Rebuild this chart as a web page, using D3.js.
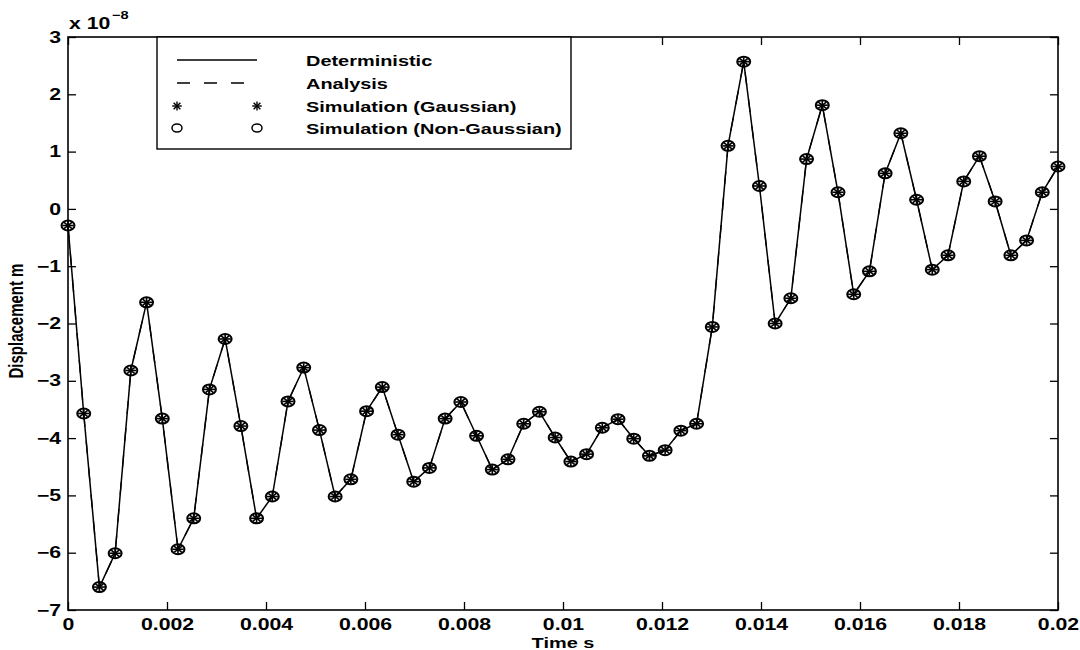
<!DOCTYPE html>
<html>
<head>
<meta charset="utf-8">
<script src="https://cdn.jsdelivr.net/npm/d3@7"></script>
<style>
  html, body { margin: 0; padding: 0; background: #fff; }
  svg { display: block; font-family: 'Liberation Sans', Arial, Helvetica, sans-serif; font-weight: bold; }
</style>
</head>
<body>
<svg id="chart" width="1080" height="650"></svg>
<script>
// displacement samples, in units of 1e-8 m
const displacement = [
  -0.29, -3.57, -6.60, -6.01, -2.82, -1.63, -3.66, -5.94, -5.40, -3.15,
  -2.27, -3.79, -5.40, -5.02, -3.36, -2.77, -3.86, -5.02, -4.72, -3.53,
  -3.11, -3.94, -4.76, -4.52, -3.66, -3.37, -3.96, -4.55, -4.37, -3.75,
  -3.54, -3.99, -4.41, -4.28, -3.82, -3.67, -4.01, -4.31, -4.21, -3.87,
  -3.75, -2.06, 1.10, 2.57, 0.40, -2.00, -1.56, 0.87, 1.81, 0.29,
  -1.49, -1.09, 0.62, 1.32, 0.16, -1.06, -0.81, 0.48, 0.92, 0.13,
  -0.81, -0.55, 0.29, 0.74
];
const timeEnd = 0.02;
const sampleStep = timeEnd / (displacement.length - 1);
const xTicks = [0, 0.002, 0.004, 0.006, 0.008, 0.01, 0.012, 0.014, 0.016, 0.018, 0.02];
const xTickLabels = ['0', '0.002', '0.004', '0.006', '0.008', '0.01', '0.012', '0.014', '0.016', '0.018', '0.02'];
const yTicks = [3, 2, 1, 0, -1, -2, -3, -4, -5, -6, -7];
const legendLabels = ['Deterministic', 'Analysis', 'Simulation (Gaussian)', 'Simulation (Non-Gaussian)'];

const SX = 1.33; // the scanned figure is stretched horizontally
const plotLeft = 68, plotRight = 1058, plotTop = 37, plotBottom = 610;

const svg = d3.select('#chart');
const points = displacement.map((v, i) => ({ t: i * sampleStep, v: v }));

const scaleX = d3.scaleLinear().domain([0, timeEnd]).range([plotLeft, plotRight]);
const scaleY = d3.scaleLinear().domain([-7, 3]).range([plotBottom, plotTop]);

// axes: ticks point inwards, matlab style
const bottomAxis = d3.axisBottom(scaleX).tickValues(xTicks)
  .tickFormat((d, i) => xTickLabels[i]).tickSizeInner(-8).tickSizeOuter(0).tickPadding(9);
const leftAxis = d3.axisLeft(scaleY).tickValues(yTicks)
  .tickFormat(d => d < 0 ? '\u2212' + Math.abs(d) : d).tickSizeInner(-8).tickSizeOuter(0).tickPadding(7);
const topAxis = d3.axisTop(scaleX).tickValues(xTicks).tickFormat('').tickSizeInner(-8).tickSizeOuter(0);
const rightAxis = d3.axisRight(scaleY).tickValues(yTicks).tickFormat('').tickSizeInner(-8).tickSizeOuter(0);

const styleAxis = (g) => {
  g.select('.domain').remove();
  g.selectAll('line').attr('stroke', '#000').attr('stroke-width', 1.3);
  g.selectAll('text').attr('fill', '#000').attr('font-size', 16).attr('font-weight', 'bold');
};

svg.append('rect')
  .attr('x', plotLeft).attr('y', plotTop)
  .attr('width', plotRight - plotLeft).attr('height', plotBottom - plotTop)
  .attr('fill', 'none').attr('stroke', '#000').attr('stroke-width', 1.6);

let gBottom = svg.append('g').attr('transform', `translate(0,${plotBottom})`).call(bottomAxis).call(styleAxis);
gBottom.selectAll('text').attr('transform', `scale(${SX},1)`);

let gLeft = svg.append('g').attr('transform', `translate(${plotLeft},0)`).call(leftAxis).call(styleAxis);
gLeft.selectAll('text').attr('x', -7 / SX).attr('transform', `scale(${SX},1)`);

svg.append('g').attr('transform', `translate(0,${plotTop})`).call(topAxis).call(styleAxis);
svg.append('g').attr('transform', `translate(${plotRight},0)`).call(rightAxis).call(styleAxis);

// stretched text helper
const stretchText = (parent, x, y, txt, size, anchor, rotate) => {
  let g = parent.append('g').attr('transform', rotate
    ? `translate(${x},${y}) rotate(-90) scale(1,${SX})`
    : `translate(${x},${y}) scale(${SX},1)`);
  return g.append('text')
    .attr('text-anchor', anchor || 'start')
    .attr('font-size', size)
    .attr('font-weight', 'bold')
    .attr('fill', '#000')
    .text(txt);
};

// exponent label
stretchText(svg, 69, 29, 'x 10', 16);
stretchText(svg, 112, 19, '\u22128', 11);

// axis titles
stretchText(svg, 563, 648, 'Time s', 15, 'middle');
stretchText(svg, 23, 321, 'Displacement m', 15, 'middle', true);

// data
const valueLine = d3.line()
  .x(d => scaleX(d.t))
  .y(d => scaleY(d.v));

const plot = svg.append('g');
plot.append('path')
  .attr('d', valueLine(points))
  .attr('fill', 'none').attr('stroke', '#000').attr('stroke-width', 1.5);
plot.append('path')
  .attr('d', valueLine(points))
  .attr('fill', 'none').attr('stroke', '#000').attr('stroke-width', 1.3)
  .attr('stroke-dasharray', '13,14');

const drawStar = (g, rx, ry, w) => {
  for (let a = 0; a < 180; a += 45) {
    let r = a * Math.PI / 180;
    g.append('line')
      .attr('x1', -Math.cos(r) * rx).attr('y1', -Math.sin(r) * ry)
      .attr('x2', Math.cos(r) * rx).attr('y2', Math.sin(r) * ry)
      .attr('stroke', '#000').attr('stroke-width', w);
  }
};
const drawCircle = (g, rx, ry, w) => {
  g.append('ellipse')
    .attr('rx', rx).attr('ry', ry)
    .attr('fill', 'none').attr('stroke', '#000').attr('stroke-width', w);
};

let marks = plot.selectAll('.mark')
  .data(points)
  .enter()
  .append('g')
  .attr('class', 'mark')
  .attr('transform', d => `translate(${scaleX(d.t)},${scaleY(d.v)})`);
marks.each(function () {
  let g = d3.select(this);
  drawStar(g, 5.6, 4.4, 1.6);
  drawCircle(g, 6.5, 5, 2);
});

// legend
const legend = svg.append('g');
legend.append('rect')
  .attr('x', 157).attr('y', plotTop)
  .attr('width', 414).attr('height', 112)
  .attr('fill', '#fff').attr('stroke', '#000').attr('stroke-width', 1.4);
const rowY = [60, 83, 106, 128];
legend.append('line')
  .attr('x1', 177).attr('x2', 257).attr('y1', rowY[0]).attr('y2', rowY[0])
  .attr('stroke', '#000').attr('stroke-width', 1.4);
legend.append('line')
  .attr('x1', 177).attr('x2', 257).attr('y1', rowY[1]).attr('y2', rowY[1])
  .attr('stroke', '#000').attr('stroke-width', 1.4).attr('stroke-dasharray', '13,14');
[177, 257].forEach(x => {
  drawStar(legend.append('g').attr('transform', `translate(${x},${rowY[2]})`), 4.8, 4.6, 1.4);
  drawCircle(legend.append('g').attr('transform', `translate(${x},${rowY[3]})`), 5, 4, 1.5);
});
legendLabels.forEach((txt, i) => {
  stretchText(legend, 306, rowY[i] + 5.5, txt, 15);
});
</script>
</body>
</html>
